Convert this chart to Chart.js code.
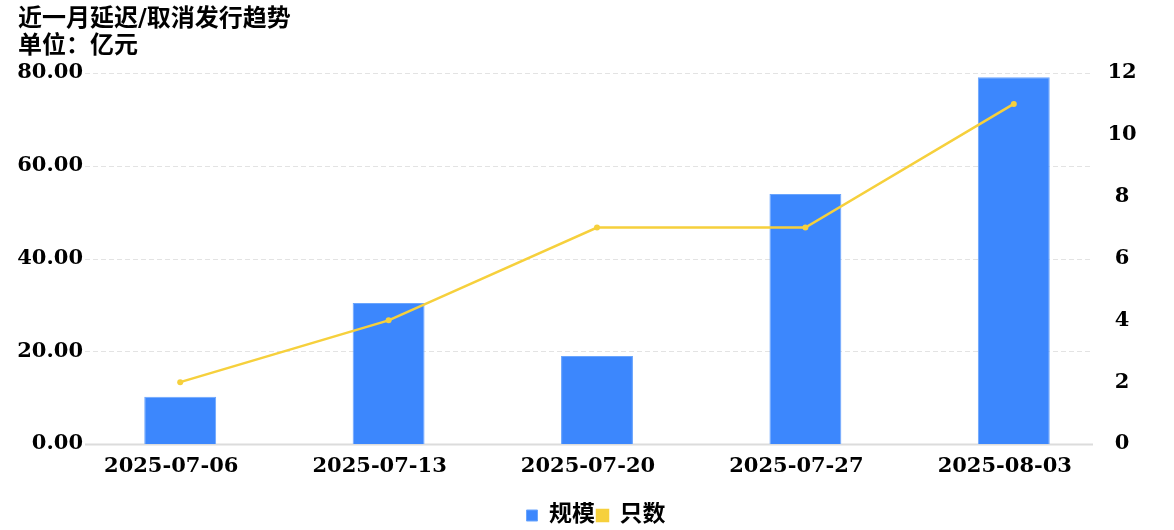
<!DOCTYPE html>
<html>
<head>
<meta charset="utf-8">
<script src="https://cdn.jsdelivr.net/npm/chart.js@4"></script>
<style>
  html, body { margin: 0; padding: 0; background: #fff; }
  #wrap { width: 1174px; height: 530px; }
</style>
</head>
<body>
<div id="wrap"><canvas id="chart"></canvas></div>
<script>
const dates = ["2025-07-06", "2025-07-13", "2025-07-20", "2025-07-27", "2025-08-03"];
const scale = [10.2, 30.4, 19.0, 53.9, 79.1];   // 规模 (亿元)
const counts = [2, 4, 7, 7, 11];                // 只数
const leftTicks = [0, 20, 40, 60, 80];
const rightTicks = [0, 2, 4, 6, 8, 10, 12];

const FONT = '"DejaVu Serif", "Noto Sans CJK SC", serif';
const BLUE = "#3c87fd";
const YELLOW = "#f6d03c";

// dashed horizontal grid, a bit narrower than the category band
const gridPlugin = {
    id: "grid",
    beforeDatasetsDraw(chart) {
        const ctx = chart.ctx;
        const y = chart.scales.y;
        const x0 = chart.chartArea.left + 9;
        const x1 = chart.chartArea.right - 25;
        ctx.save();
        for (const v of leftTicks) {
            const py = Math.round(y.getPixelForValue(v)) + 0.5;
            ctx.beginPath();
            if (v === 0) {
                ctx.setLineDash([]);
                ctx.strokeStyle = "#dcdcdc";
                ctx.lineWidth = 2;
            } else {
                ctx.setLineDash([5, 3]);
                ctx.strokeStyle = "#e3e3e3";
                ctx.lineWidth = 1;
            }
            ctx.moveTo(x0, py);
            ctx.lineTo(x1, py);
            ctx.stroke();
        }
        ctx.restore();
    }
};

const tickFont = { family: FONT, size: 21, weight: "bold" };

new Chart(document.getElementById("chart"), {
    data: {
        labels: dates,
        datasets: [
            {
                type: "bar",
                label: "规模",
                data: scale,
                backgroundColor: BLUE,
                borderColor: "#6aa5fd",
                borderWidth: 1,
                barPercentage: 0.345,
                categoryPercentage: 1,
                yAxisID: "y",
                order: 1
            },
            {
                type: "line",
                label: "只数",
                data: counts,
                borderColor: YELLOW,
                backgroundColor: YELLOW,
                borderWidth: 2.5,
                pointRadius: 3,
                pointBackgroundColor: YELLOW,
                pointBorderWidth: 0,
                tension: 0,
                yAxisID: "y1",
                order: 0
            }
        ]
    },
    options: {
        responsive: true,
        maintainAspectRatio: false,
        animation: false,
        layout: { padding: { left: 18, right: 0, top: 0, bottom: -7 } },
        plugins: {
            title: {
                display: true,
                text: ["近一月延迟/取消发行趋势", "单位：亿元"],
                align: "start",
                color: "#000",
                font: { family: FONT, size: 24, weight: "bold", lineHeight: 1.125 },
                padding: { top: 6, bottom: 13 }
            },
            legend: {
                position: "bottom",
                labels: {
                    color: "#000",
                    font: { family: FONT, size: 23, weight: "bold" },
                    boxWidth: 11,
                    boxHeight: 11,
                    padding: 2,
                    sort: (a, b) => a.datasetIndex - b.datasetIndex
                }
            },
            tooltip: { enabled: false }
        },
        scales: {
            x: {
                grid: { display: false },
                border: { display: false },
                ticks: {
                    color: "#000",
                    padding: 2,
                    labelOffset: -9,
                    maxRotation: 0,
                    font: tickFont
                },
                afterFit(s) { s.height = 58; }
            },
            y: {
                position: "left",
                min: 0,
                max: 80,
                grid: { display: false, drawTicks: false },
                border: { display: false },
                afterBuildTicks(s) { s.ticks = leftTicks.map(v => ({ value: v })); },
                ticks: {
                    color: "#000",
                    mirror: true,
                    crossAlign: "far",
                    padding: 0,
                    font: tickFont,
                    callback: v => v.toFixed(2)
                },
                afterFit(s) { s.width = 58; },
                afterUpdate(s) {
                    // labels end a few px inside the plot edge
                    const w = s._getLabelSizes().widest.width;
                    s.options.ticks.padding = 7 - w;
                }
            },
            y1: {
                position: "right",
                min: 0,
                max: 12,
                grid: { display: false, drawTicks: false },
                border: { display: false },
                afterBuildTicks(s) { s.ticks = rightTicks.map(v => ({ value: v })); },
                ticks: {
                    color: "#000",
                    mirror: true,
                    crossAlign: "center",
                    padding: 0,
                    font: tickFont
                },
                afterFit(s) { s.width = 56; },
                afterUpdate(s) {
                    const w = s._getLabelSizes().widest.width;
                    s.options.ticks.padding = 4 + w / 2;
                }
            }
        }
    },
    plugins: [gridPlugin]
});
</script>
</body>
</html>
